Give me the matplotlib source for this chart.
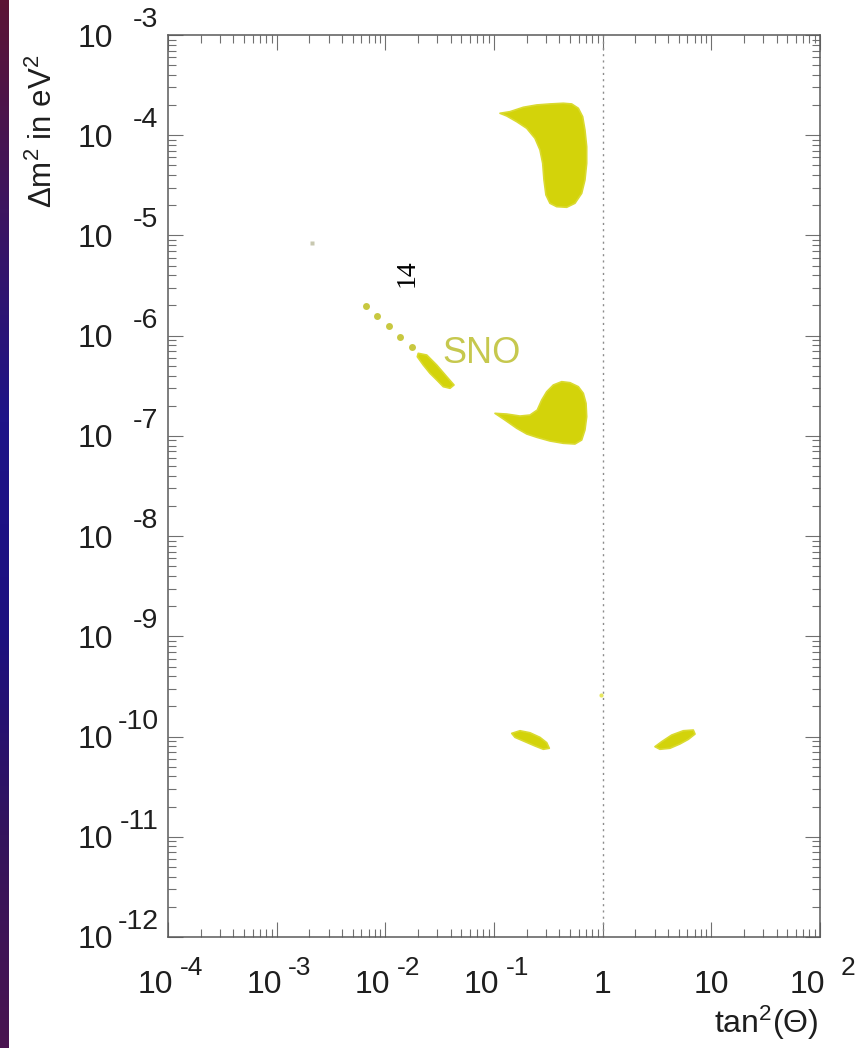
import numpy as np
import matplotlib
matplotlib.use('Agg')
import matplotlib.pyplot as plt
import matplotlib.transforms as mtransforms
from matplotlib.patches import Polygon
from matplotlib.colors import LinearSegmentedColormap

plt.rcParams['font.family'] = ['Liberation Sans', 'DejaVu Sans']
plt.rcParams['mathtext.fontset'] = 'custom'
plt.rcParams['mathtext.rm'] = 'Liberation Sans'
plt.rcParams['mathtext.it'] = 'Liberation Sans:italic'

# allowed regions, outlines as log10(tan^2) / log10(dm^2)
lma_log_tan2 = [-0.945, -0.853, -0.730, -0.607, -0.485, -0.362, -0.285, -0.224, -0.184,
                -0.163, -0.147, -0.147, -0.163, -0.193, -0.255, -0.331, -0.423, -0.485,
                -0.522, -0.540, -0.552, -0.577, -0.623, -0.699, -0.791, -0.883]
lma_log_dm2 = [-3.781, -3.765, -3.721, -3.698, -3.688, -3.681, -3.688, -3.731, -3.815,
               -3.948, -4.115, -4.280, -4.447, -4.580, -4.679, -4.719, -4.713, -4.679,
               -4.596, -4.447, -4.280, -4.147, -4.031, -3.931, -3.865, -3.808]

low_log_tan2 = [-0.991, -0.883, -0.761, -0.669, -0.602, -0.561, -0.515, -0.454, -0.377,
                -0.301, -0.224, -0.178, -0.153, -0.147, -0.163, -0.193, -0.255, -0.362,
                -0.485, -0.607, -0.699, -0.791, -0.899]
low_log_dm2 = [-6.775, -6.782, -6.802, -6.792, -6.742, -6.642, -6.559, -6.492, -6.459,
               -6.469, -6.509, -6.575, -6.675, -6.809, -6.941, -7.041, -7.081, -7.074,
               -7.051, -7.014, -6.981, -6.924, -6.842]

sma_log_tan2 = [-1.697, -1.619, -1.527, -1.435, -1.368, -1.405, -1.467, -1.527, -1.589,
                -1.651, -1.706]
sma_log_dm2 = [-6.176, -6.193, -6.293, -6.409, -6.492, -6.525, -6.509, -6.442, -6.376,
               -6.293, -6.210]

sma_dots_log_tan2 = [-2.178, -2.074, -1.969, -1.865, -1.757]
sma_dots_log_dm2 = [-5.704, -5.801, -5.904, -6.010, -6.110]

vac1_log_tan2 = [-0.837, -0.761, -0.669, -0.577, -0.515, -0.491, -0.546, -0.623, -0.715, -0.807]
vac1_log_dm2 = [-9.968, -9.942, -9.962, -10.008, -10.061, -10.117, -10.127, -10.094, -10.051, -10.008]

vac2_log_tan2 = [0.481, 0.543, 0.635, 0.742, 0.834, 0.850, 0.788, 0.711, 0.619, 0.527]
vac2_log_dm2 = [-10.101, -10.051, -9.985, -9.942, -9.935, -9.975, -10.028, -10.074, -10.117, -10.127]

spot_log_tan2 = [-0.015]
spot_log_dm2 = [-9.586]
faint_log_tan2 = [-2.675]
faint_log_dm2 = [-5.075]

sno_label_pos = (-1.479, -6.273)

xtick_vals = [1e-4, 1e-3, 1e-2, 1e-1, 1, 10, 100]
xtick_base = ['10', '10', '10', '10', '1', '10', '10']
xtick_exp = ['-4', '-3', '-2', '-1', '', '', '2']
ytick_vals = [1e-3, 1e-4, 1e-5, 1e-6, 1e-7, 1e-8, 1e-9, 1e-10, 1e-11, 1e-12]
ytick_exp = ['-3', '-4', '-5', '-6', '-7', '-8', '-9', '-10', '-11', '-12']

YELLOW = '#d3d30a'
INK = '#1e1e1e'

fig = plt.figure(figsize=(8.6, 10.48), dpi=100)

# dark slide border on the left
strip = fig.add_axes([0, 0, 9 / 860, 1])
cmap = LinearSegmentedColormap.from_list(
    'slide', ['#5c1434', '#3c1660', '#1e1488', '#1c1080', '#34145c', '#4a1450'])
strip.imshow(np.linspace(0, 1, 256)[:, None], aspect='auto', cmap=cmap)
strip.axis('off')

ax = fig.add_axes([168 / 860, 111 / 1048, 652 / 860, 902 / 1048])
ax.set_xscale('log')
ax.set_yscale('log')
ax.set_xlim(1e-4, 1e2)
ax.set_ylim(1e-12, 1e-3)

def to_xy(lx, ly):
    return np.column_stack([10.0 ** np.array(lx), 10.0 ** np.array(ly)])

for lx, ly in [(lma_log_tan2, lma_log_dm2), (low_log_tan2, low_log_dm2),
               (sma_log_tan2, sma_log_dm2), (vac1_log_tan2, vac1_log_dm2),
               (vac2_log_tan2, vac2_log_dm2)]:
    ax.add_patch(Polygon(to_xy(lx, ly), closed=True, facecolor=YELLOW,
                         edgecolor='#dada30', lw=1.2, joinstyle='round'))

ax.plot(10.0 ** np.array(sma_dots_log_tan2), 10.0 ** np.array(sma_dots_log_dm2),
        'o', ms=5, color='#c8c840', mec='none')
ax.plot(10.0 ** np.array(spot_log_tan2), 10.0 ** np.array(spot_log_dm2),
        'o', ms=3, color='#e6e660', mec='none')
ax.plot(10.0 ** np.array(faint_log_tan2), 10.0 ** np.array(faint_log_dm2),
        's', ms=2.5, color='#c8c8b0', mec='none')

ax.axvline(1.0, color='#8c8c8c', lw=1.0, ls=(0, (1.5, 3)))

ax.text(10 ** sno_label_pos[0], 10 ** sno_label_pos[1], 'SNO', fontsize=26,
        color='#c6c84e', ha='left', va='baseline')

# IDL style axes: inward ticks on all sides
for s in ax.spines.values():
    s.set_color('#5a5a5a')
    s.set_linewidth(1.1)
ax.xaxis.set_major_locator(matplotlib.ticker.LogLocator(base=10, numticks=20))
ax.xaxis.set_minor_locator(matplotlib.ticker.LogLocator(base=10, subs=np.arange(2, 10), numticks=20))
ax.yaxis.set_major_locator(matplotlib.ticker.LogLocator(base=10, numticks=20))
ax.yaxis.set_minor_locator(matplotlib.ticker.LogLocator(base=10, subs=np.arange(2, 10), numticks=20))
ax.tick_params(which='both', direction='in', top=True, right=True,
               labelbottom=False, labelleft=False, color='#707070', width=0.8)
ax.tick_params(which='major', length=10.5)
ax.tick_params(which='minor', length=5.5)

# tick labels built as base + exponent, like the original plot
ytrans = mtransforms.blended_transform_factory(ax.transAxes, ax.transData)
for v, e in zip(ytick_vals, ytick_exp):
    ax.text(-90 / 652, v, '10', fontsize=23, ha='left', va='baseline', color=INK,
            transform=mtransforms.offset_copy(ytrans, fig=fig, y=-11.5, units='dots'),
            clip_on=False)
    ax.text(-9.5 / 652, v, e, fontsize=20.5, ha='right', va='baseline', color=INK,
            transform=mtransforms.offset_copy(ytrans, fig=fig, y=8, units='dots'),
            clip_on=False)

xtrans = mtransforms.blended_transform_factory(ax.transData, ax.transAxes)
for v, b, e in zip(xtick_vals, xtick_base, xtick_exp):
    if e:
        ax.text(v, -56 / 902, b, fontsize=23, ha='right', va='baseline', color=INK,
                transform=mtransforms.offset_copy(xtrans, fig=fig, x=5, units='dots'),
                clip_on=False)
        ax.text(v, -38 / 902, e, fontsize=19, ha='right', va='baseline', color=INK,
                transform=mtransforms.offset_copy(xtrans, fig=fig, x=35, units='dots'),
                clip_on=False)
    else:
        ax.text(v, -56 / 902, b, fontsize=23, ha='center', va='baseline', color=INK,
                transform=xtrans, clip_on=False)

fig.text(43 / 860, 1 - 131 / 1048, r'$\Delta$m$^2$ in eV$^2$', rotation=90,
         fontsize=22.5, ha='center', va='center', color=INK)
fig.text(818 / 860, 1 - 1033 / 1048, r'tan$^2$($\Theta$)', fontsize=23,
         ha='right', va='baseline', color=INK)

# slide page number
fig.text(407 / 860, 1 - 273 / 1048, '14', rotation=90, fontsize=20,
         fontfamily=['Liberation Serif', 'DejaVu Serif'], ha='center', va='center',
         color='black')

fig.savefig('out.png', dpi=100)
